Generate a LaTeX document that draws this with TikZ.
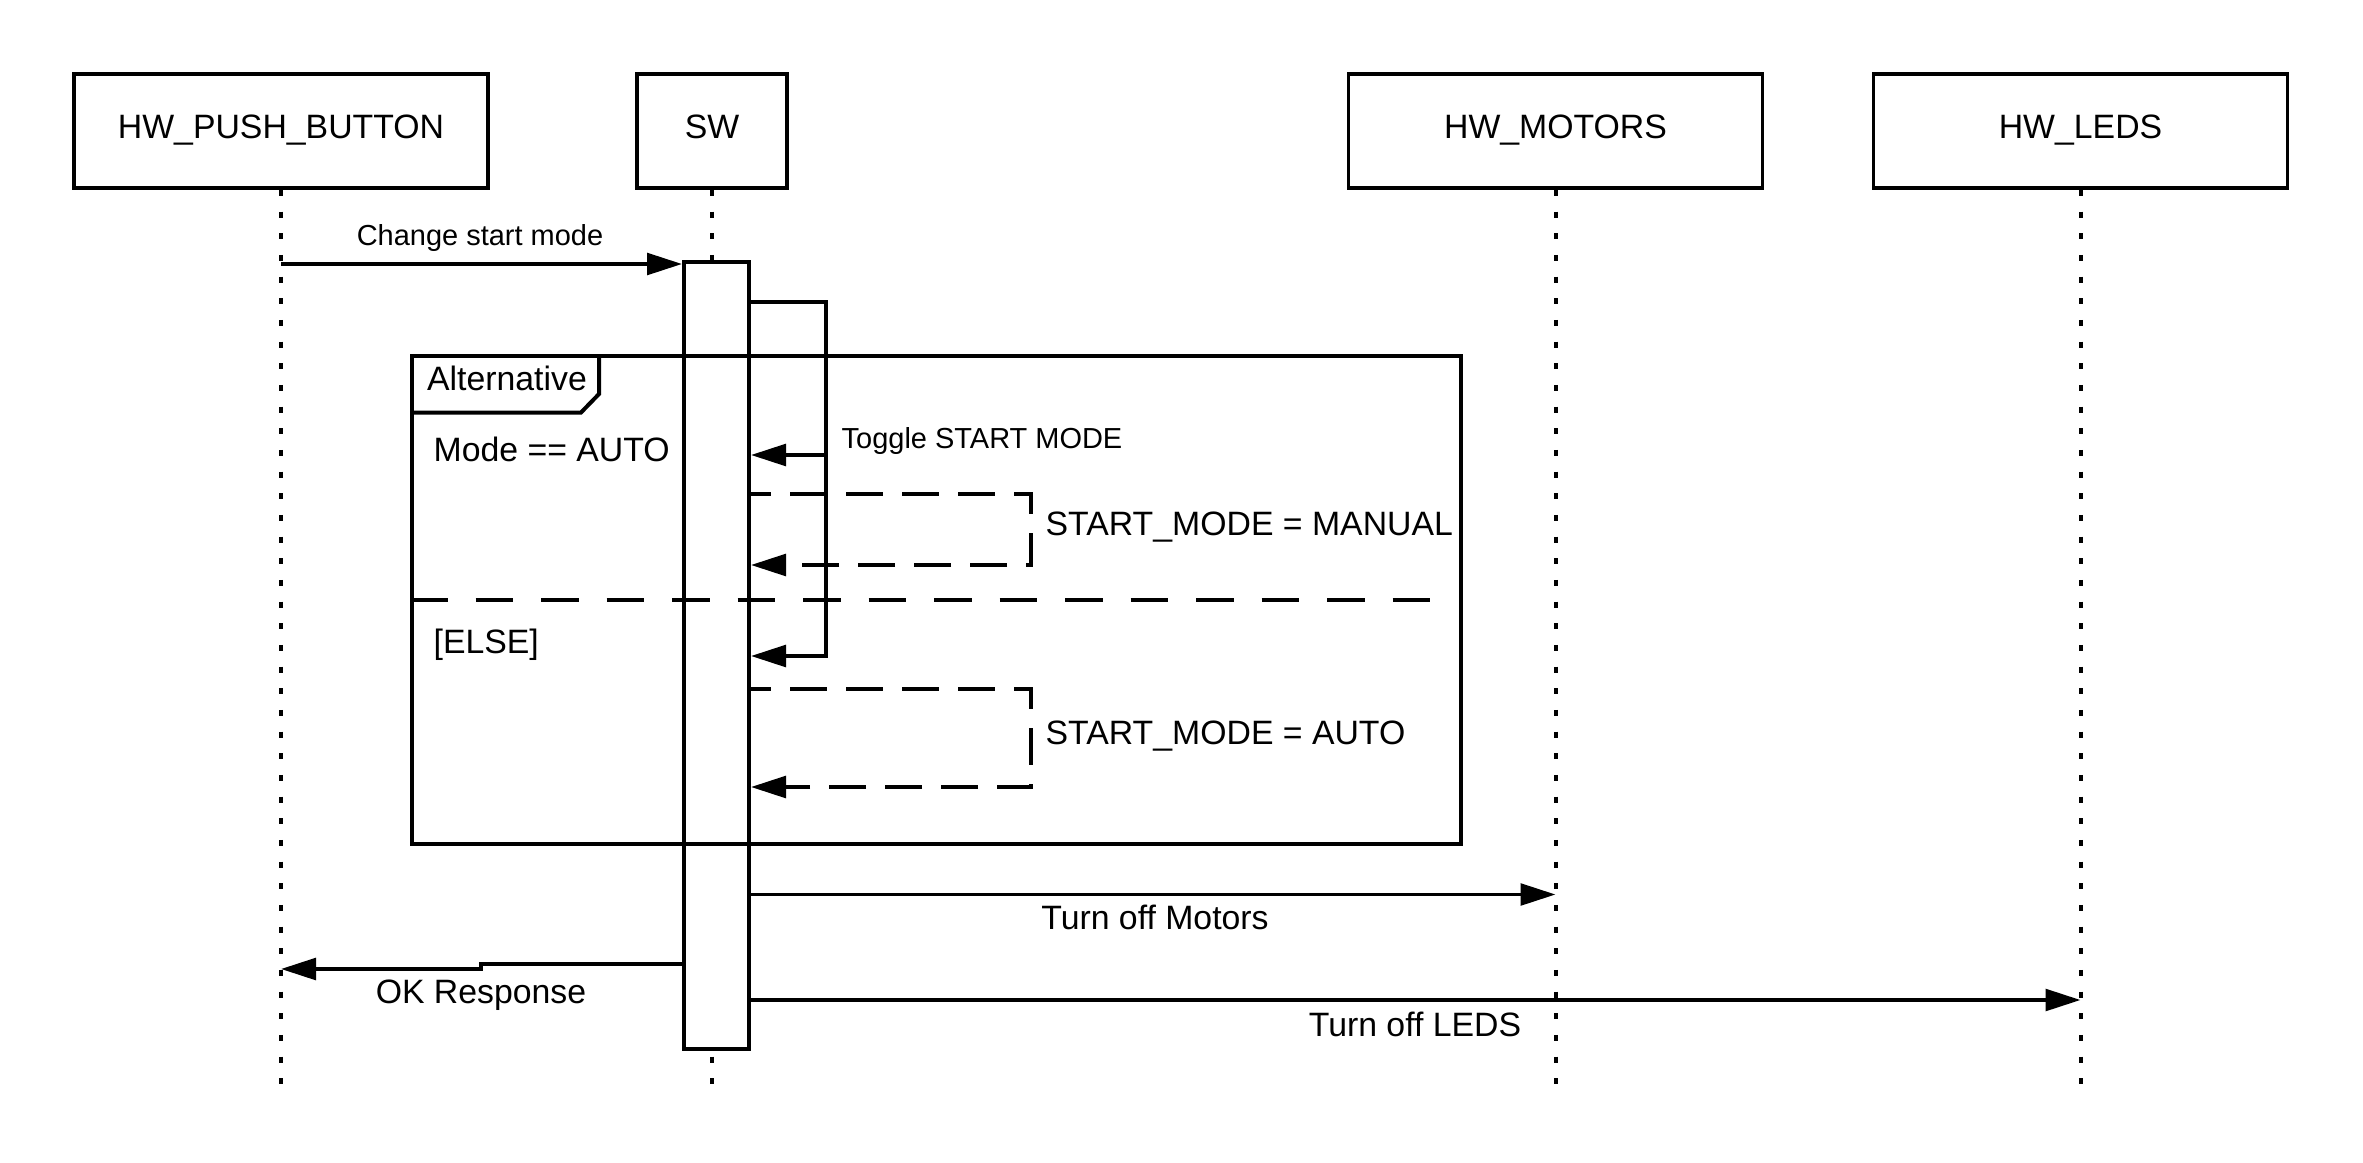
\documentclass[tikz,border=0pt]{standalone}
\usepackage{fontspec}
\setmainfont{Liberation Sans}
\usetikzlibrary{arrows.meta}
\begin{document}
\begin{tikzpicture}[x=0.3pt,y=-0.3pt,
  labbig/.style={font=\fontsize{10.14}{12}\selectfont},
  labsmall/.style={font=\fontsize{8.69}{10.4}\selectfont},
  actor/.style={draw, line width=1.1pt, minimum width=124.2pt, minimum height=34.2pt,
    inner sep=0pt, labbig, text height=7.3pt, text depth=3.04pt},
  lifeline/.style={line width=1.2pt, dash pattern=on 1.8pt off 4.7pt},
  msg/.style={line width=1.1pt, -{Triangle[length=10.5pt,width=6.5pt]}},
  ret/.style={msg, dash pattern=on 11.1pt off 5.7pt, dash phase=5.1pt},
  sepline/.style={line width=1.2pt, dash pattern=on 11.3pt off 8.35pt},
  framebox/.style={draw, line width=1.2pt, inner sep=0pt},
  lbl/.style={inner sep=0pt, anchor=base},
]
\useasboundingbox (0,0) rectangle (2363,1163);

% actors
\node[actor] (pb) at (281,131) {HW\_PUSH\_BUTTON};
\node[actor, minimum width=45pt] (sw) at (712,131) {SW};
\node[actor] (mot) at (1555.5,131) {HW\_MOTORS};
\node[actor] (led) at (2080.5,131) {HW\_LEDS};

% lifelines
\draw[lifeline] (pb.south) -- (pb.south |- 0,1087);
\draw[lifeline] (sw.south) -- (sw.south |- 0,1087);
\draw[lifeline] (mot.south) -- (mot.south |- 0,1087);
\draw[lifeline] (led.south) -- (led.south |- 0,1087);

% activation
\node[draw, fill=white, line width=1.2pt, minimum width=19.5pt, minimum height=236.1pt,
  inner sep=0pt] (act) at (716.5,655.5) {};

% alternative frame
\node[framebox, minimum width=314.7pt, minimum height=146.4pt] (alt) at (936.5,600) {};
\draw[line width=1.2pt] (alt.north west |- 0,412.5) -- (581,412.5) -- (599,394) -- (599,356);
\node[lbl, labbig] (alttitle) at (507,390) {Alternative};
\node[lbl, labbig, anchor=base west] (cond1) at (433,461) {Mode == AUTO};
\node[lbl, labbig, anchor=base west] (cond2) at (433,653) {[ELSE]};
\draw[sepline] (alt.west |- 0,599.5) -- (1434,599.5);

% messages
\draw[msg] (pb.south |- 0,264) -- (act.north west |- 0,264);
\node[lbl, labsmall] (m1) at (480,245) {Change start mode};

\draw[msg] (act.east |- 0,302) -- (826,302) -- (826,455) -- (act.east |- 0,455);
\draw[msg] (act.east |- 0,302) -- (826,302) -- (826,656) -- (act.east |- 0,656);
\node[lbl, labsmall, anchor=base west] (m2) at (841,448) {Toggle START MODE};

\draw[ret] (act.east |- 0,494) -- (1031,494) -- (1031,565) -- (act.east |- 0,565);
\node[lbl, labbig, anchor=base west] (m3) at (1045,535.5) {START\_MODE = MANUAL};

\draw[ret] (act.east |- 0,689) -- (1031,689) -- (1031,787) -- (act.east |- 0,787);
\node[lbl, labbig, anchor=base west] (m4) at (1045,744) {START\_MODE = AUTO};

\draw[msg] (act.east |- 0,894.5) -- (mot.south |- 0,894.5);
\node[lbl, labbig] (m5) at (1155,929) {Turn off Motors};

\draw[msg] (act.west |- 0,964) -- (481,964) -- (481,969) -- (pb.south |- 0,969);
\node[lbl, labbig] (m6) at (481,1003) {OK Response};

\draw[msg] (act.east |- 0,1000) -- (led.south |- 0,1000);
\node[lbl, labbig] (m7) at (1415,1036) {Turn off LEDS};
\end{tikzpicture}
\end{document}
